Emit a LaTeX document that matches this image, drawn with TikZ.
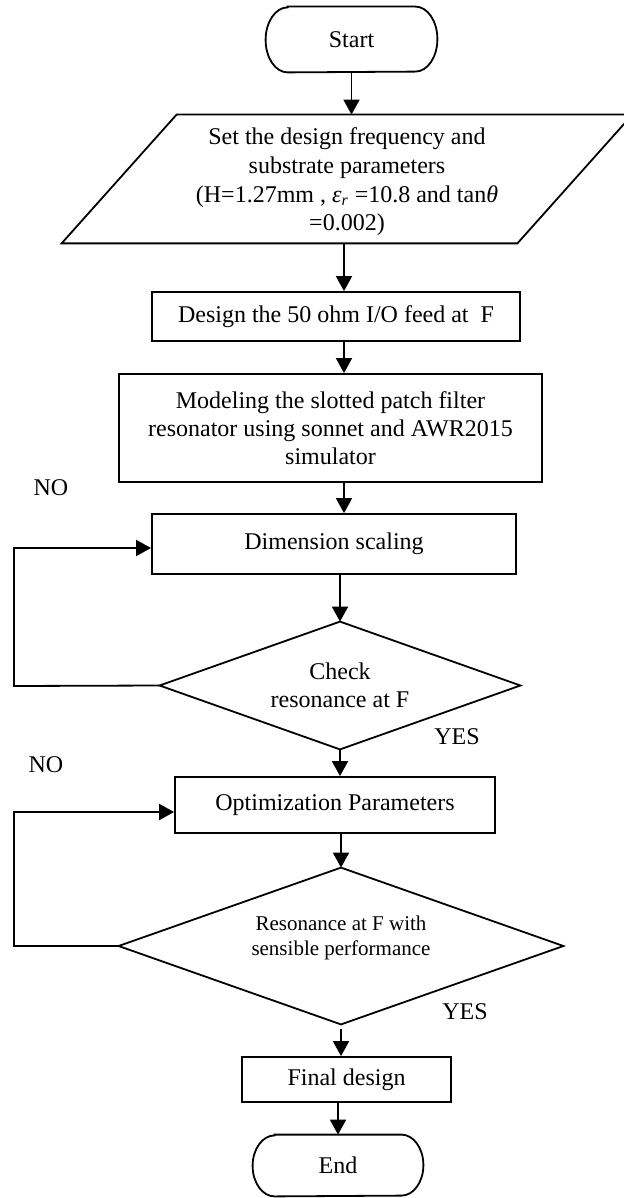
\documentclass[tikz,border=0pt]{standalone}
\usepackage{fontspec}
\setmainfont{Liberation Serif}
\usetikzlibrary{arrows.meta}
\begin{document}
\begin{tikzpicture}[x=0.5pt,y=-0.5pt,
  line/.style={line width=0.9pt},
  arr/.style={line width=0.9pt,-{Triangle[length=7.5pt,width=8pt]}},
  box/.style={draw,line width=0.9pt,rectangle,inner sep=0pt,font=\fontsize{12}{14}\selectfont,align=center},
  ghost/.style={rectangle,inner sep=0pt,font=\fontsize{12}{14}\selectfont,align=center},
  lbl/.style={font=\fontsize{12}{14}\selectfont,inner sep=0pt}]
\path[use as bounding box] (0,0) rectangle (624,1198);
\clip (0,0) rectangle (624,1198);

% Start
\node[ghost,minimum width=85.5pt,minimum height=32.5pt] (start) at (351.5,39.5) {Start};
\draw[line] ([xshift=11pt]start.north west) -- ([xshift=-11pt]start.north east)
  arc[start angle=90,end angle=-90,x radius=11pt,y radius=16.25pt]
  -- ([xshift=11pt]start.south west)
  arc[start angle=270,end angle=90,x radius=11pt,y radius=16.25pt] -- cycle;

% Parallelogram
\node[ghost,minimum width=285pt,minimum height=64pt] (para) at (347,179) {};
\node[ghost,font=\fontsize{12}{14.3}\selectfont] (paratext) at (347,182)
  {Set the design frequency and\\substrate parameters\\(H=1.27mm , \textit{ε\textsubscript{r}} =10.8 and tan\textit{θ}\\=0.002)};
\draw[line] ([xshift=57.5pt]para.north west) -- (para.north east)
  -- ([xshift=-57.5pt]para.south east) -- (para.south west) -- cycle;
\draw[arr] (start.south) -- (start.south |- para.north);

% Design
\node[box,minimum width=184pt,minimum height=24.5pt] (design) at (336,316.5) {Design the 50 ohm I/O feed at\ \ F};
\draw[arr] ([xshift=4pt]design.north |- para.south) -- ([xshift=4pt]design.north);

% Modeling
\node[box,minimum width=211.5pt,minimum height=54pt] (model) at (330.5,428)
  {Modeling the slotted patch filter\\resonator using sonnet and AWR2015\\simulator};
\draw[arr] ([xshift=4pt]design.south) -- ([xshift=4pt]design.south |- model.north);

\node[lbl] (no1) at (51,488) {NO};

% Dimension
\node[box,minimum width=182pt,minimum height=30pt] (dim) at (334,544) {Dimension scaling};
\draw[arr] ([xshift=4pt]design.south |- model.south) -- ([xshift=4pt]design.south |- dim.north);

% Decision 1
\node[ghost,minimum width=180pt,minimum height=63.5pt] (d1) at (340,685.5) {Check\\resonance at F};
\draw[line] (d1.north) -- (d1.east) -- (d1.south) -- (d1.west) -- cycle;
\draw[arr] (d1.north |- dim.south) -- (d1.north);
\coordinate (l1) at (14,686);
\draw[arr] (d1.west) -- (l1) |- ([yshift=-2pt]dim.west);
\node[lbl] (yes1) at (457,737) {YES};

% Optimization
\node[box,minimum width=160pt,minimum height=28pt] (opt) at (335,805) {Optimization Parameters};
\draw[arr] (d1.south) -- (d1.south |- opt.north);
\node[lbl] (no2) at (46,765) {NO};

% Decision 2
\node[ghost,minimum width=222pt,minimum height=78pt] (d2) at (341,946) {};
\node[font=\fontsize{10.5}{12.5}\selectfont,align=center,inner sep=0pt] (d2t) at (341,937.5)
  {Resonance at F with\\sensible performance};
\draw[line] (d2.north) -- (d2.east) -- (d2.south) -- (d2.west) -- cycle;
\draw[arr] (d2.north |- opt.south) -- (d2.north);
\coordinate (l2) at (14,946);
\draw[arr] (d2.west) -- (l2) |- ([yshift=-3.5pt]opt.west);
\node[lbl] (yes2) at (465,1012) {YES};

% Final
\node[box,minimum width=104.5pt,minimum height=22.5pt] (final) at (346.5,1079.5) {Final design};
\draw[arr] ([yshift=-2.5pt]d2.south) -- (d2.south |- final.north);

% End
\node[ghost,minimum width=85pt,minimum height=30.5pt] (stop) at (338,1165.5) {End};
\draw[line] ([xshift=11pt]stop.north west) -- ([xshift=-11pt]stop.north east)
  arc[start angle=90,end angle=-90,x radius=11pt,y radius=15.25pt]
  -- ([xshift=11pt]stop.south west)
  arc[start angle=270,end angle=90,x radius=11pt,y radius=15.25pt] -- cycle;
\draw[arr] (stop.north |- final.south) -- (stop.north);
\end{tikzpicture}
\end{document}
